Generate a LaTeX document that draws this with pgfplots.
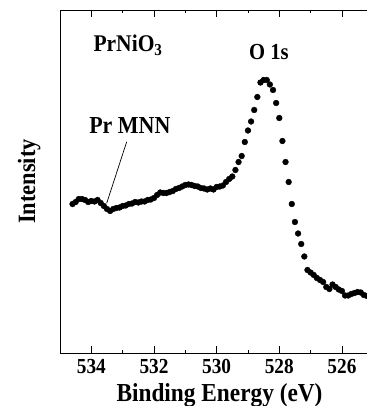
\documentclass[border=0pt]{standalone}
\usepackage{fontspec}
\setmainfont{Liberation Serif}[FakeStretch=0.9]
\usepackage{pgfplots}
\pgfplotsset{compat=1.18}
\pgfplotstableread{
E I
534.6 149
534.5 151
534.4 154
534.3 154
534.2 153
534.1 151
534.0 152
533.9 151.5
533.8 153
533.7 150
533.6 147
533.5 144
533.4 142
533.3 144
533.2 145
533.1 145.5
533.0 147
532.9 147.5
532.8 149
532.7 149.5
532.6 151
532.5 150.5
532.4 151.5
532.3 151.5
532.2 153
532.1 153.5
532.0 155
531.9 158
531.8 160.5
531.7 160
531.6 160
531.5 161
531.4 162
531.3 164
531.2 165
531.1 166.5
531.0 168
530.9 168.5
530.8 168
530.7 167
530.6 166.5
530.5 165
530.4 164.5
530.3 163.5
530.2 164.5
530.1 163.5
530.0 166
529.9 166.5
529.8 167.5
529.7 171
529.6 174
529.5 176.5
529.4 183
529.3 191
529.2 197
529.1 211
529.0 222.5
528.9 231.5
528.8 243
528.7 256
528.6 270.5
528.5 273
528.4 273
528.3 268.5
528.2 263
528.1 250
528.0 235
527.9 212
527.8 191
527.7 171
527.6 149
527.5 131
527.4 119.5
527.3 109
527.2 96.5
527.1 83
527.0 80.5
526.9 78
526.8 75
526.7 73
526.6 71
526.5 66
526.4 64
526.3 68.5
526.2 66
526.1 63.5
526.0 62
525.9 57.5
525.8 57.5
525.7 59
525.6 60
525.5 61
525.4 60.5
525.3 58
525.2 57
}\datatable
\begin{document}
\begin{tikzpicture}
\begin{axis}[
  scale only axis,
  width=307bp, height=343bp,
  x dir=reverse,
  xmin=525.2, xmax=535,
  ymin=0, ymax=343,
  axis y line*=left,
  axis x line=box,
  ytick=\empty,
  xtick={526,528,530,532,534},
  minor xtick={527,529,531,533},
  major tick length=7bp,
  minor tick length=3.5bp,
  tick style={black, line width=0.7bp},
  axis line style={line width=0.8bp},
  /pgf/number format/assume math mode=true,
  xticklabel style={font=\fontsize{21.5}{24}\selectfont\bfseries, yshift=-3bp},
  xticklabel={\pgfmathprintnumber[1000 sep={}]{\tick}},
  xlabel={Binding Energy (eV)},
  ylabel={Intensity},
  xlabel style={font=\fontsize{26}{30}\selectfont\bfseries, xshift=6bp, yshift=-3bp},
  ylabel style={font=\fontsize{25}{28}\selectfont\bfseries, yshift=16bp},
  clip=false,
]
\addplot[only marks, mark=*, mark size=2.9bp, black] table[x=E, y=I] {\datatable};
\node[anchor=base, font=\fontsize{24}{28}\selectfont\bfseries] at (axis cs:532.815,301) {PrNiO$_{\mathbf{3}}$};
\node[anchor=base, font=\fontsize{23}{26}\selectfont\bfseries] at (axis cs:528.33,293) {O 1s};
\node[anchor=base, font=\fontsize{24.5}{28}\selectfont\bfseries] at (axis cs:532.77,219) {Pr MNN};
\draw[line width=0.7bp] (axis cs:532.87,211.3) -- (axis cs:533.51,149.7);
\end{axis}
\pgfresetboundingbox
\path (-60bp,-53bp) rectangle (307bp,353bp);
\end{tikzpicture}
\end{document}
